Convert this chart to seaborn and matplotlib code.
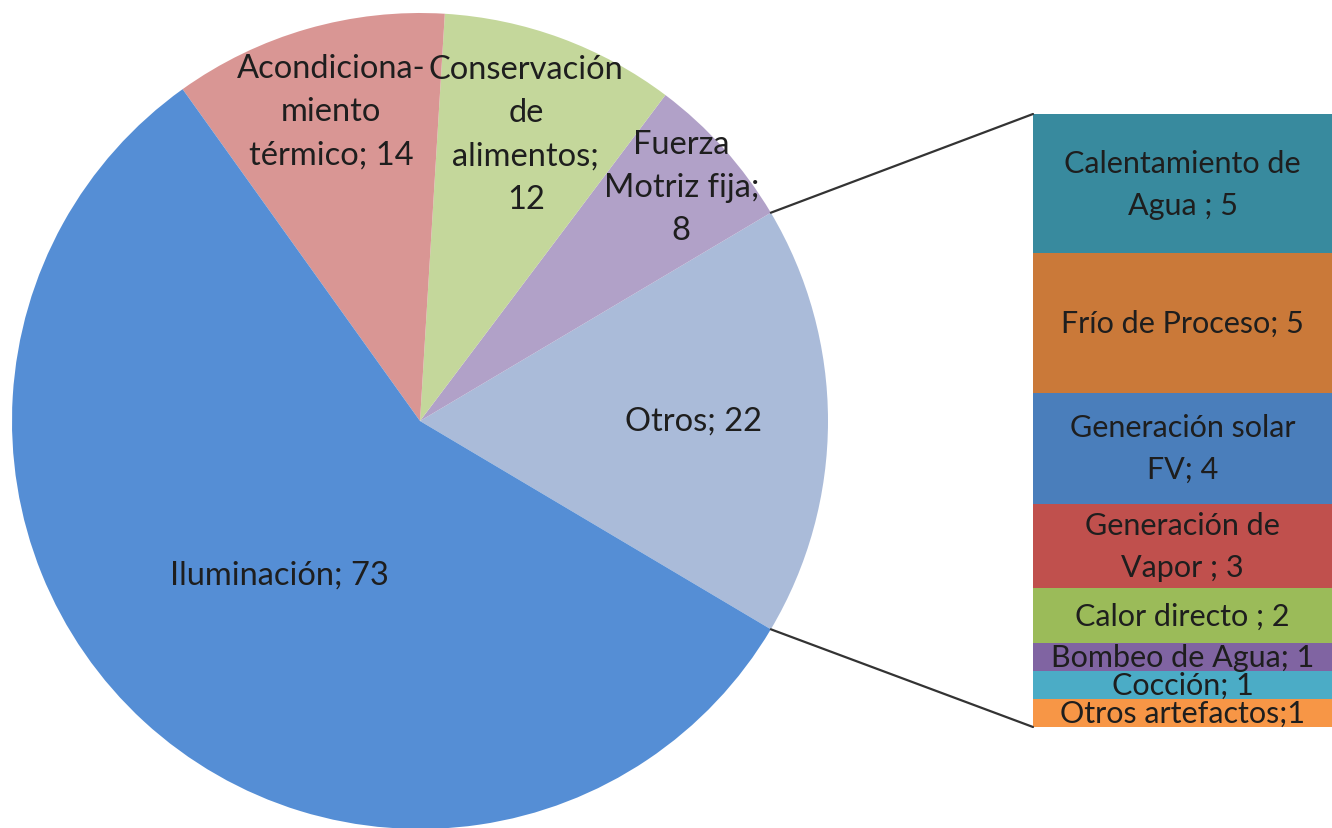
import numpy as np
import matplotlib
matplotlib.use("Agg")
import matplotlib.pyplot as plt
from matplotlib.patches import ConnectionPatch
import seaborn as sns

# ---- data ----
pie_labels = ["Otros; 22", "Fuerza\nMotriz fija;\n8", "Conservación\nde\nalimentos;\n12",
              "Acondiciona-\nmiento\ntérmico; 14", "Iluminación; 73"]
pie_values = [22, 8, 12, 14, 73]
pie_colors = ["#AABBD9", "#B1A1C8", "#C4D79B", "#D99694", "#558ED5"]
pie_label_dist = [0.67, 0.86, 0.75, 0.79, 0.51]

bar_labels = ["Calentamiento de\nAgua ; 5", "Frío de Proceso; 5", "Generación solar\nFV; 4",
              "Generación de\nVapor ; 3", "Calor directo ; 2", "Bombeo de Agua; 1",
              "Cocción; 1", "Otros artefactos;1"]
bar_values = [5, 5, 4, 3, 2, 1, 1, 1]
bar_colors = ["#388A9E", "#CA7939", "#4A7EBB", "#C0504D", "#9BBB59", "#8064A2",
              "#4BACC6", "#F79646"]

sns.set_theme(style="white")
plt.rcParams['font.family'] = ['Lato', 'DejaVu Sans']

W, H = 1332, 829
fig = plt.figure(figsize=(W / 100, H / 100), dpi=100)
ax = fig.add_axes([0, 0, 1, 1])
ax.set_xlim(0, W)
ax.set_ylim(0, H)
ax.set_aspect('equal')
ax.axis('off')

cx, cy, R = 420, 407, 408
total = sum(pie_values)
start = -pie_values[0] / total * 360 / 2
wedges, _ = ax.pie(pie_values, colors=pie_colors, startangle=start, counterclock=True,
                   center=(cx, cy), radius=R, wedgeprops=dict(linewidth=0))
ax.set_xlim(0, W)
ax.set_ylim(0, H)

txt_color = "#1e1e1e"
fs_pie = 23.5
fs_bar = 22
for w, lab, d in zip(wedges, pie_labels, pie_label_dist):
    mid = np.deg2rad((w.theta1 + w.theta2) / 2)
    ax.text(cx + d * R * np.cos(mid), cy + d * R * np.sin(mid), lab,
            ha='center', va='center', fontsize=fs_pie, color=txt_color, linespacing=1.55)

# ---- bar of pie ----
bx = fig.add_axes([1033 / W, (H - 728) / H, 299 / W, 613 / H])
bsum = sum(bar_values)
bx.set_xlim(0, 1)
bx.set_ylim(0, bsum)
bx.axis('off')
top = bsum
for v, c, lab in zip(bar_values, bar_colors, bar_labels):
    bx.bar(0.5, v, width=1.0, bottom=top - v, color=c, linewidth=0)
    bx.text(0.5, top - v / 2, lab, ha='center', va='center', fontsize=fs_bar,
            color=txt_color, linespacing=1.6, clip_on=False)
    top -= v

# connectors
t_hi = np.deg2rad(wedges[0].theta2)
t_lo = np.deg2rad(wedges[0].theta1)
for t, yb in [(t_hi, bsum), (t_lo, 0)]:
    con = ConnectionPatch(xyA=(cx + R * np.cos(t), cy + R * np.sin(t)), coordsA=ax.transData,
                          xyB=(0, yb), coordsB=bx.transData, color="#333333", linewidth=1.6)
    fig.add_artist(con)

fig.savefig("out.png", dpi=100, facecolor="white")
